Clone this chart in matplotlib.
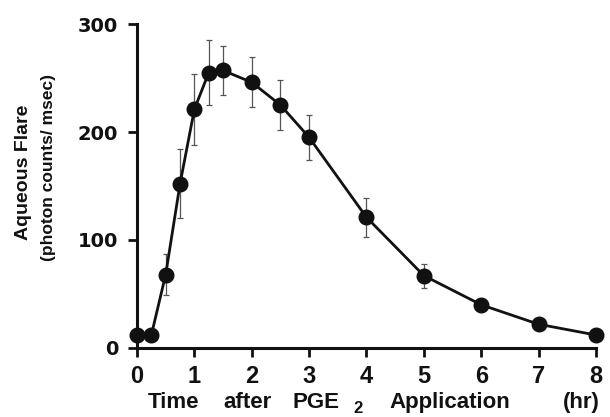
import matplotlib.pyplot as plt

plt.rcParams['font.family'] = ['Liberation Sans', 'DejaVu Sans']

# Data
hours = [0, 0.25, 0.5, 0.75, 1.0, 1.25, 1.5, 2, 2.5, 3, 4, 5, 6, 7, 8]
flare = [12, 12, 68, 152, 221, 255, 257, 246, 225, 195, 121, 67, 40, 22, 12]
flare_err = [1, 1, 19, 32, 33, 30, 23, 23, 23, 21, 18, 11, 5, 2, 2]

x_ticks = [0, 1, 2, 3, 4, 5, 6, 7, 8]
y_ticks = [0, 100, 200, 300]

fig = plt.figure(figsize=(6.1, 4.17), dpi=100)
ax = fig.add_axes([0.2246, 0.1655, 0.7524, 0.7769])

ax.errorbar(hours, flare, yerr=flare_err, fmt='none', ecolor='#555555',
            elinewidth=0.9, capsize=2.5, capthick=0.9, zorder=2, clip_on=False)
ax.plot(hours, flare, color='#111111', linewidth=2.0, marker='o',
        markersize=10.5, markerfacecolor='#111111', markeredgecolor='#111111',
        zorder=3, clip_on=False)

ax.set_xlim(0, 8)
ax.set_ylim(0, 300)
ax.set_xticks(x_ticks)
ax.set_yticks(y_ticks)
ax.spines['top'].set_visible(False)
ax.spines['right'].set_visible(False)
for s in ['left', 'bottom']:
    ax.spines[s].set_linewidth(2.2)
    ax.spines[s].set_color('#111111')
ax.tick_params(direction='out', length=6.5, width=2.0, colors='#111111')
ax.tick_params(axis='x', pad=5.5)
ax.tick_params(axis='y', pad=7)
ax.set_xticklabels([str(t) for t in x_ticks], fontsize=17, fontweight='bold')
ax.set_yticklabels([str(t) for t in y_ticks], fontsize=14, fontweight='bold',
                   family='DejaVu Sans')

# y label (two lines)
fig.text(0.038, 0.587, 'Aqueous Flare', rotation=90, ha='center', va='center',
         fontsize=14, fontweight='bold', color='#111111')
fig.text(0.080, 0.598, '(photon counts/ msec)', rotation=90, ha='center',
         va='center', fontsize=12.5, fontweight='bold', color='#111111')

# x label, widely spaced like the original
xl_y = 0.022
fig.text(0.243, xl_y, 'Time', fontsize=16, fontweight='bold', color='#111111')
fig.text(0.366, xl_y, 'after', fontsize=16, fontweight='bold', color='#111111')
fig.text(0.479, xl_y, 'PGE', fontsize=16, fontweight='bold', color='#111111')
fig.text(0.579, xl_y - 0.012, '2', fontsize=12, fontweight='bold', color='#111111')
fig.text(0.639, xl_y, 'Application', fontsize=16, fontweight='bold', color='#111111')
fig.text(0.923, xl_y, '(hr)', fontsize=16, fontweight='bold', color='#111111')

fig.savefig('out.png', dpi=100)
